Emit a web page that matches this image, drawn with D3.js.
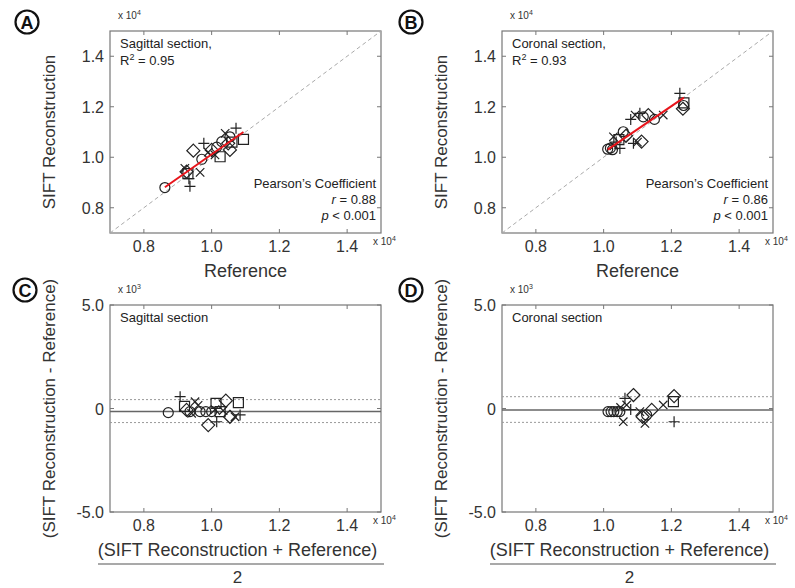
<!DOCTYPE html>
<html>
<head>
<meta charset="utf-8">
<script src="https://cdn.jsdelivr.net/npm/d3@7"></script>
<style>
  body { margin: 0; background: #fff; }
  svg { font-family: "Liberation Sans", Arial, sans-serif; }
</style>
</head>
<body>
<svg id="chart" width="795" height="588"></svg>
<script>
// ---- data (x 10^4 for A/B and x axes, x 10^3 for differences) ----
var scatterTicks = [0.8, 1.0, 1.2, 1.4];
var diffTicks = [-5, 0, 5];
var diffTickLabels = ["-5.0", "0", "5.0"];

// A: sagittal section
var sagRef  = [0.862, 0.936, 0.933, 0.926, 0.921, 0.930, 0.966, 0.946, 0.977, 0.971, 1.000, 1.010, 1.025, 1.015, 1.030, 1.054, 1.040, 1.049, 1.054, 1.072, 1.094, 1.060, 0.990];
var sagSift = [0.880, 0.885, 0.915, 0.943, 0.956, 0.935, 0.940, 1.026, 1.055, 0.992, 1.029, 1.009, 1.002, 1.040, 1.062, 1.029, 1.095, 1.055, 1.081, 1.115, 1.071, 1.060, 1.020];
var sagMark = ["o", "+", "+", "d", "x", "s", "x", "d", "+", "o", "d", "x", "s", "o", "o", "d", "x", "d", "o", "+", "s", "s", "x"];
var sagFitX = [0.862, 1.094];
var sagFitY = [0.881, 1.100];

// B: coronal section
var corRef  = [1.012, 1.020, 1.026, 1.030, 1.048, 1.029, 1.037, 1.045, 1.058, 1.066, 1.088, 1.112, 1.100, 1.093, 1.107, 1.117, 1.132, 1.080, 1.176, 1.150, 1.225, 1.237, 1.234, 1.236];
var corSift = [1.032, 1.036, 1.030, 1.045, 1.035, 1.081, 1.060, 1.070, 1.101, 1.085, 1.055, 1.062, 1.060, 1.167, 1.174, 1.160, 1.167, 1.150, 1.167, 1.150, 1.253, 1.215, 1.192, 1.205];
var corMark = ["o", "o", "o", "x", "+", "x", "+", "s", "o", "d", "+", "d", "x", "x", "+", "o", "d", "+", "x", "o", "+", "s", "d", "o"];
var corFitX = [1.012, 1.237];
var corFitY = [1.030, 1.236];

// C: Bland-Altman sagittal
var sagMean = [0.872, 0.907, 0.951, 0.926, 0.936, 0.941, 0.920, 0.966, 0.983, 1.000, 0.990, 1.015, 1.013, 1.042, 1.079, 1.054, 1.084, 1.069, 1.010, 1.025, 1.034, 0.960];
var sagDiff = [-0.20, 0.57, 0.33, -0.07, -0.15, -0.23, 0.10, -0.15, -0.15, -0.15, -0.80, -0.64, 0.25, 0.38, 0.28, -0.40, -0.31, -0.40, -0.05, -0.15, -0.10, 0.15];
var sagBaMark = ["o", "+", "x", "d", "o", "x", "s", "o", "o", "o", "d", "+", "s", "d", "s", "d", "+", "x", "x", "s", "x", "x"];
var sagBias = -0.15, sagUpper = 0.43, sagLower = -0.68;

// D: Bland-Altman coronal
var corMean = [1.013, 1.022, 1.030, 1.040, 1.048, 1.063, 1.088, 1.068, 1.058, 1.050, 1.122, 1.142, 1.127, 1.107, 1.115, 1.176, 1.208, 1.206, 1.208, 1.080];
var corDiff = [-0.15, -0.15, -0.15, -0.15, -0.15, 0.49, 0.65, 0.17, -0.64, 0.05, -0.72, -0.07, -0.31, -0.15, -0.40, 0.17, 0.60, 0.33, -0.64, -0.05];
var corBaMark = ["o", "o", "o", "o", "o", "+", "d", "x", "x", "x", "x", "d", "o", "x", "d", "x", "d", "s", "+", "+"];
var corBias = -0.07, corUpper = 0.57, corLower = -0.67;

var svg = d3.select("#chart");
var axisColor = "#777";
var textColor = "#333";
var markColor = "#222";

// marker shapes as path strings
function markerPath(type) {
    if (type == "o") return "M5,0A5,5 0 1,1 -5,0A5,5 0 1,1 5,0Z";
    if (type == "+") return "M-5.5,0H5.5M0,-5.5V5.5";
    if (type == "x") return "M-4.2,-4.2L4.2,4.2M-4.2,4.2L4.2,-4.2";
    if (type == "d") return "M0,-6.5L6.5,0L0,6.5L-6.5,0Z";
    return "M-5,-5H5V5H-5Z";
}

function drawPanel(p) {
    var g = svg.append("g");
    var x = d3.scaleLinear().domain([0.7, 1.5]).range([p.left, p.right]);
    var y = d3.scaleLinear().domain(p.yDomain).range([p.bottom, p.top]);

    // box
    g.append("rect").attr("x", p.left).attr("y", p.top)
        .attr("width", p.right - p.left).attr("height", p.bottom - p.top)
        .attr("fill", "none").attr("stroke", axisColor).attr("stroke-width", 1.2);

    // ticks (inward, all four sides)
    var tl = 4;
    scatterTicks.forEach(function (t) {
        g.append("line").attr("x1", x(t)).attr("x2", x(t)).attr("y1", p.bottom).attr("y2", p.bottom - tl).attr("stroke", axisColor);
        g.append("line").attr("x1", x(t)).attr("x2", x(t)).attr("y1", p.top).attr("y2", p.top + tl).attr("stroke", axisColor);
        g.append("text").attr("x", x(t)).attr("y", p.bottom + 19).attr("text-anchor", "middle")
            .attr("font-size", 16).attr("fill", textColor).text(d3.format(".1f")(t));
    });
    p.yTicks.forEach(function (t, i) {
        g.append("line").attr("x1", p.left).attr("x2", p.left + tl).attr("y1", y(t)).attr("y2", y(t)).attr("stroke", axisColor);
        g.append("line").attr("x1", p.right).attr("x2", p.right - tl).attr("y1", y(t)).attr("y2", y(t)).attr("stroke", axisColor);
        g.append("text").attr("x", p.left - 6).attr("y", y(t) + 6).attr("text-anchor", "end")
            .attr("font-size", 16).attr("fill", textColor).text(p.yTickLabels[i]);
    });

    // exponent labels
    var expo = function (tx, ty, e) {
        var t = g.append("text").attr("x", tx).attr("y", ty).attr("font-size", 10).attr("fill", textColor);
        t.append("tspan").text("x 10");
        t.append("tspan").attr("font-size", 7).attr("dy", -4).text(e);
    };
    expo(p.left + 8, p.top - 12, p.yExp);
    expo(p.right - 8, p.bottom + 12, "4");

    // axis titles
    g.append("text").attr("transform", "translate(" + (p.left - 55) + "," + ((p.top + p.bottom) / 2) + ") rotate(-90)")
        .attr("text-anchor", "middle").attr("font-size", 17).attr("fill", textColor).text(p.yTitle);
    if (p.ba) {
        var cx = (p.left + p.right) / 2;
        g.append("text").attr("x", cx - 8).attr("y", p.bottom + 44).attr("text-anchor", "middle")
            .attr("font-size", 18).attr("fill", textColor).text("(SIFT Reconstruction + Reference)");
        g.append("line").attr("x1", p.left - 12).attr("x2", p.right + 3).attr("y1", p.bottom + 52).attr("y2", p.bottom + 52)
            .attr("stroke", "#555").attr("stroke-width", 1.2);
        g.append("text").attr("x", cx - 8).attr("y", p.bottom + 71).attr("text-anchor", "middle")
            .attr("font-size", 17).attr("fill", textColor).text("2");
    } else {
        g.append("text").attr("x", (p.left + p.right) / 2).attr("y", p.bottom + 44).attr("text-anchor", "middle")
            .attr("font-size", 18).attr("fill", textColor).text("Reference");
    }

    // panel letter
    var lg = g.append("g").attr("transform", "translate(" + p.letterX + "," + p.letterY + ")");
    lg.append("circle").attr("r", 11.5).attr("fill", "none").attr("stroke", "#111").attr("stroke-width", 2.2);
    lg.append("text").attr("y", 6.5).attr("text-anchor", "middle").attr("font-size", 18).attr("font-weight", "bold")
        .attr("fill", "#111").text(p.letter);

    var plot = g.append("g");
    if (!p.ba) {
        // identity line
        plot.append("line").attr("x1", x(0.7)).attr("y1", y(0.7)).attr("x2", x(1.5)).attr("y2", y(1.5))
            .attr("stroke", "#aaa").attr("stroke-dasharray", "4,3");
    } else {
        plot.append("line").attr("x1", p.left).attr("x2", p.right).attr("y1", y(p.bias)).attr("y2", y(p.bias))
            .attr("stroke", "#666").attr("stroke-width", 1.5);
        [p.upper, p.lower].forEach(function (v) {
            plot.append("line").attr("x1", p.left).attr("x2", p.right).attr("y1", y(v)).attr("y2", y(v))
                .attr("stroke", "#999").attr("stroke-dasharray", "2,2");
        });
    }

    plot.selectAll("path.mark").data(p.xs).enter().append("path")
        .attr("class", "mark")
        .attr("transform", function (d, i) { return "translate(" + x(d) + "," + y(p.ys[i]) + ")"; })
        .attr("d", function (d, i) { return markerPath(p.marks[i]); })
        .attr("fill", "none").attr("stroke", markColor).attr("stroke-width", 1.2);

    if (p.fitX) {
        plot.append("line").attr("x1", x(p.fitX[0])).attr("y1", y(p.fitY[0]))
            .attr("x2", x(p.fitX[1])).attr("y2", y(p.fitY[1]))
            .attr("stroke", "#e8141b").attr("stroke-width", 2);
    }

    // annotations
    var ty = p.top + 17;
    p.note.forEach(function (n, i) {
        var t = g.append("text").attr("x", p.left + 10).attr("y", ty + i * 17).attr("font-size", 13).attr("fill", "#222");
        if (n == "R2") {
            t.append("tspan").text("R");
            t.append("tspan").attr("font-size", 9).attr("dy", -5).text("2");
            t.append("tspan").attr("dy", 5).text(" = " + p.r2);
        } else {
            t.text(n);
        }
    });
    if (p.pearson) {
        var rx = p.right - 5;
        g.append("text").attr("x", rx).attr("y", p.bottom - 45).attr("text-anchor", "end").attr("font-size", 13).attr("fill", "#222")
            .text("Pearson\u2019s Coefficient");
        var t1 = g.append("text").attr("x", rx).attr("y", p.bottom - 29).attr("text-anchor", "end").attr("font-size", 13).attr("fill", "#222");
        t1.append("tspan").attr("font-style", "italic").text("r");
        t1.append("tspan").text(" = " + p.pearson);
        var t2 = g.append("text").attr("x", rx).attr("y", p.bottom - 13).attr("text-anchor", "end").attr("font-size", 13).attr("fill", "#222");
        t2.append("tspan").attr("font-style", "italic").text("p");
        t2.append("tspan").text(" < 0.001");
    }
}

drawPanel({ left: 110, right: 381, top: 31, bottom: 233, yDomain: [0.7, 1.5], yTicks: scatterTicks,
    yTickLabels: scatterTicks.map(d3.format(".1f")), yExp: "4", yTitle: "SIFT Reconstruction",
    letter: "A", letterX: 27, letterY: 22, xs: sagRef, ys: sagSift, marks: sagMark,
    fitX: sagFitX, fitY: sagFitY, note: ["Sagittal section,", "R2"], r2: "0.95", pearson: "0.88" });

drawPanel({ left: 502, right: 773, top: 31, bottom: 233, yDomain: [0.7, 1.5], yTicks: scatterTicks,
    yTickLabels: scatterTicks.map(d3.format(".1f")), yExp: "4", yTitle: "SIFT Reconstruction",
    letter: "B", letterX: 411, letterY: 22, xs: corRef, ys: corSift, marks: corMark,
    fitX: corFitX, fitY: corFitY, note: ["Coronal section,", "R2"], r2: "0.93", pearson: "0.86" });

drawPanel({ left: 110, right: 381, top: 305, bottom: 512, yDomain: [-5, 5], yTicks: diffTicks,
    yTickLabels: diffTickLabels, yExp: "3", yTitle: "(SIFT Reconstruction - Reference)",
    letter: "C", letterX: 25, letterY: 290, xs: sagMean, ys: sagDiff, marks: sagBaMark, ba: true,
    bias: sagBias, upper: sagUpper, lower: sagLower, note: ["Sagittal section"] });

drawPanel({ left: 502, right: 773, top: 305, bottom: 512, yDomain: [-5, 5], yTicks: diffTicks,
    yTickLabels: diffTickLabels, yExp: "3", yTitle: "(SIFT Reconstruction - Reference)",
    letter: "D", letterX: 411, letterY: 290, xs: corMean, ys: corDiff, marks: corBaMark, ba: true,
    bias: corBias, upper: corUpper, lower: corLower, note: ["Coronal section"] });
</script>
</body>
</html>
